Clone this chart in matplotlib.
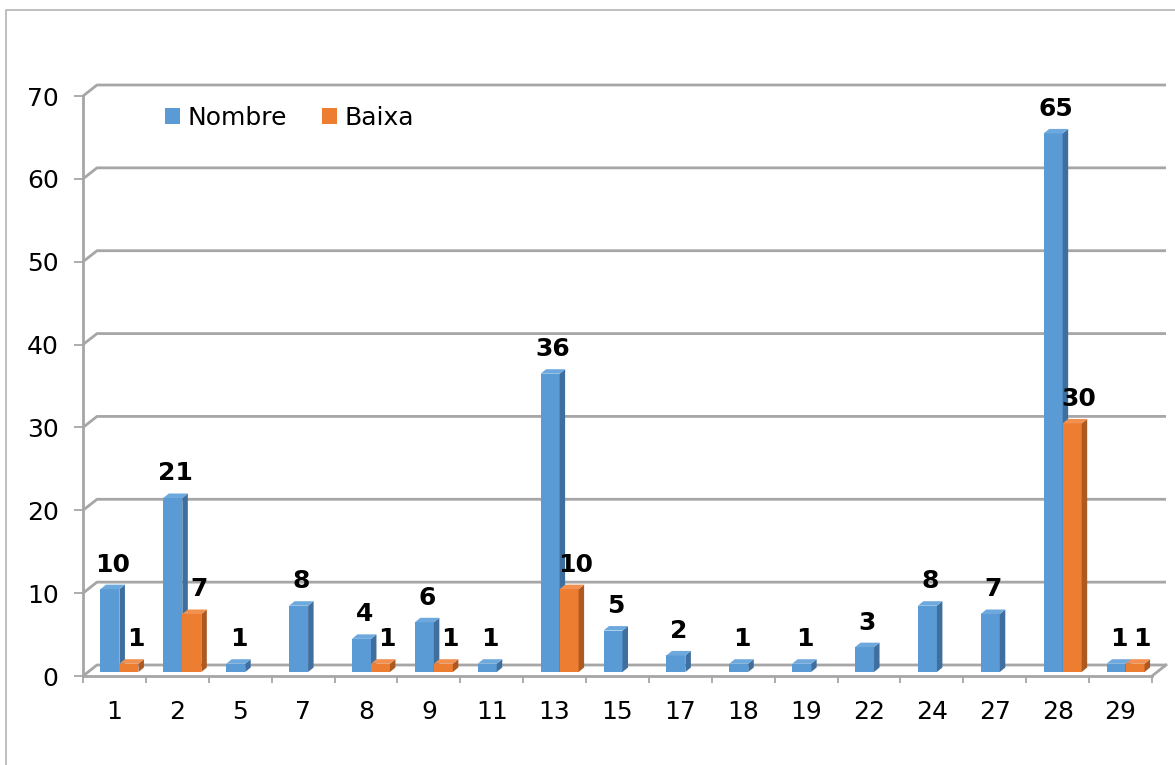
import numpy as np
import matplotlib.pyplot as plt
from matplotlib.patches import Polygon, Patch
from matplotlib.lines import Line2D

categories = ['1', '2', '5', '7', '8', '9', '11', '13', '15', '17', '18', '19', '22', '24', '27', '28', '29']
nombre = [10, 21, 1, 8, 4, 6, 1, 36, 5, 2, 1, 1, 3, 8, 7, 65, 1]
baixa = [1, 7, 0, 0, 1, 1, 0, 10, 0, 0, 0, 0, 0, 0, 0, 30, 1]
y_ticks = list(range(0, 80, 10))

W, H = 1175, 765
GRID = '#a6a6a6'
faces = {
    'Nombre': ('#5b9bd5', '#3f6f9e', '#6ea9de'),
    'Baixa': ('#ed7d31', '#ad5a22', '#f2904f'),
}

fig = plt.figure(figsize=(W / 100, H / 100), dpi=100)
# plot area in pixels (front floor edge / left wall)
x0_px, x1_px, y0_px, y1_px = 83, 1152, 676, 96
ax = fig.add_axes([x0_px / W, 1 - y0_px / H, (x1_px - x0_px) / W, (y0_px - y1_px) / H])
n = len(categories)
ymax = y_ticks[-1]
ax.set_xlim(0, n)
ax.set_ylim(0, ymax)
px_x = n / (x1_px - x0_px)
px_y = ymax / (y0_px - y1_px)

# back wall gridlines with the 3d slant
dx, dy = 14 * px_x, 11 * px_y
for v in y_ticks:
    ax.plot([0, dx, n + dx], [v, v + dy, v + dy], color=GRID, lw=2.0, clip_on=False, zorder=1,
            solid_capstyle='butt')
ax.plot([n, n + dx], [0, dy], color=GRID, lw=2.0, clip_on=False, zorder=1)

for side in ['top', 'right']:
    ax.spines[side].set_visible(False)
for side in ['left', 'bottom']:
    ax.spines[side].set_color(GRID)
    ax.spines[side].set_linewidth(2.0)
    ax.spines[side].set_zorder(1)

ax.set_yticks(y_ticks)
ax.tick_params(axis='y', length=6.5, width=1.3, color=GRID, labelsize=18, pad=11)
ax.set_xticks(np.arange(n + 1))
ax.set_xticklabels([])
ax.set_xticks(np.arange(n) + 0.5, minor=True)
ax.set_xticklabels(categories, minor=True)
ax.tick_params(axis='x', which='major', length=5, width=1.3, color=GRID)
ax.tick_params(axis='x', which='minor', length=0, labelsize=18, pad=17)

# 3d-looking columns
bw = 19 * px_x
by = 4 * px_y
sx, sy = 5.5 * px_x, 4.5 * px_y
label_shift = [0, 4]
for s, (name, vals) in enumerate([('Nombre', nombre), ('Baixa', baixa)]):
    front, dark, light = faces[name]
    for i, v in enumerate(vals):
        if v == 0:
            continue
        xl = i + 0.5 + 5 * px_x - bw + s * bw
        xr = xl + bw
        ax.bar(xl, v, width=bw, bottom=by, align='edge', color=front, zorder=3 + s)
        ax.add_patch(Polygon([(xr, by), (xr + sx, by + sy), (xr + sx, by + v + sy), (xr, by + v)],
                             closed=True, facecolor=dark, edgecolor='none', zorder=3 + s))
        ax.add_patch(Polygon([(xl, by + v), (xr, by + v), (xr + sx, by + v + sy), (xl + sx, by + v + sy)],
                             closed=True, facecolor=light, edgecolor='none', zorder=3 + s))
        ax.annotate(str(v), (xl + bw / 2 + sx / 2, by + v + sy), xytext=(label_shift[s], 13),
                    textcoords='offset pixels', ha='center', va='baseline', fontsize=18,
                    fontweight='bold', zorder=6)

handles = [Patch(facecolor=faces[k][0]) for k in faces]
fig.legend(handles, list(faces), loc='center left', bbox_to_anchor=(165 / W, 1 - 118 / H), ncol=2,
           frameon=False, fontsize=18, handlelength=0.6, handleheight=0.6, handletextpad=0.3,
           columnspacing=1.4, borderpad=0, borderaxespad=0)

# outer chart border
fig.add_artist(Line2D([6 / W, 6 / W, 1], [0, 1 - 10 / H, 1 - 10 / H], transform=fig.transFigure,
                      color='#b4b4b4', lw=1.2))

fig.savefig('out.png', dpi=100)
